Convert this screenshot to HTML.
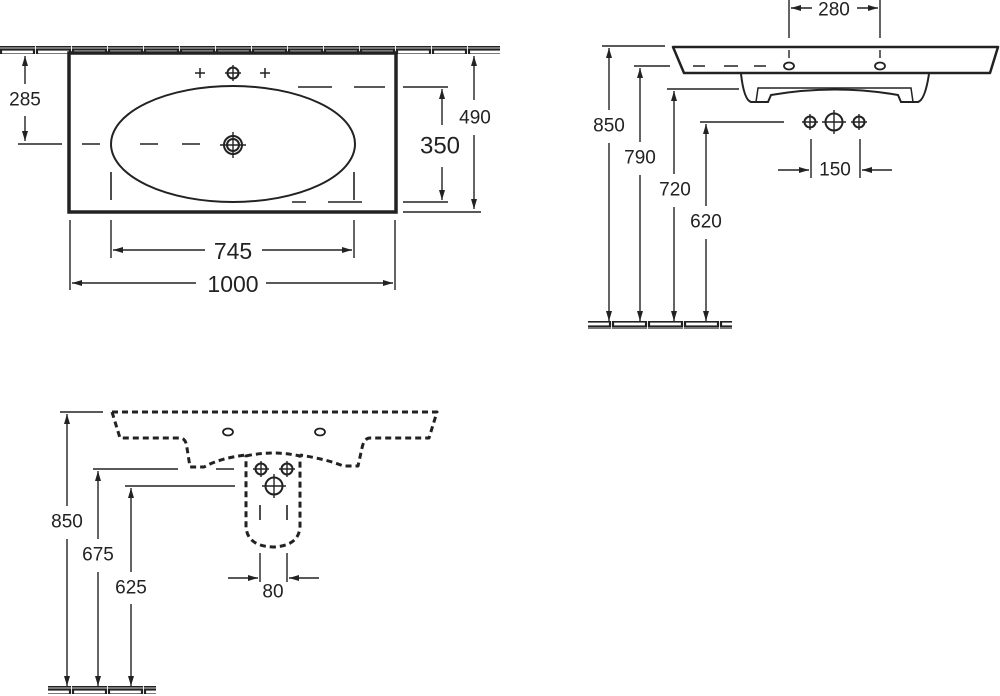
<!DOCTYPE html>
<html><head><meta charset="utf-8"><style>
html,body{margin:0;padding:0;background:#fff;}
svg{display:block;}
text{font-family:"Liberation Sans","DejaVu Sans",sans-serif;fill:#222;text-anchor:middle;dominant-baseline:central;}
</style></head><body>
<svg width="1000" height="696" viewBox="0 0 1000 696" xmlns="http://www.w3.org/2000/svg">
<defs>
<marker id="a" viewBox="0 0 10 10" refX="10" refY="5" markerWidth="10" markerHeight="10" markerUnits="userSpaceOnUse" orient="auto-start-reverse"><path d="M0,2 L10,5 L0,8 z" fill="#222"/></marker>
<pattern id="strip" width="36" height="8" patternUnits="userSpaceOnUse"><rect x="1" y="1.5" width="33" height="5" fill="#fff" stroke="#222" stroke-width="2.2"/></pattern>
</defs>
<g stroke="#222" fill="none" stroke-width="1.4">
<!-- TOP VIEW -->
<rect x="0" y="46" width="500" height="8" fill="url(#strip)" stroke="none"/>
<rect x="69" y="53" width="327" height="159" stroke-width="3.5"/>
<ellipse cx="233" cy="144" rx="122" ry="58" stroke-width="2"/>
<circle cx="233" cy="73" r="5.5" stroke-width="2"/>
<path d="M233,65v16M225,73h16"/>
<g stroke-width="1.5"><path d="M200,68v10M195,73h10M265,68v10M260,73h10"/></g>
<circle cx="233" cy="145" r="9" stroke-width="2"/><circle cx="233" cy="145" r="6" stroke-width="2"/>
<path d="M233,132v26M220,145h26"/>
<path d="M18,144H62"/>
<path d="M82,144H100M140,144H158M182,144H200" stroke-width="1.6"/>
<path d="M298,87H332M354,87H385M403,87H448" stroke-width="1.6"/>
<path d="M292,202H306M328,202H362M403,202H448" stroke-width="1.6"/>
<path d="M111,172V200M354,172V200" stroke-width="1.6"/>
<path d="M403,212H481"/>
<path d="M25,116V141" marker-end="url(#a)"/>
<path d="M25,84V56" marker-end="url(#a)"/>
<path d="M474,100V56" marker-end="url(#a)"/><path d="M474,135V209" marker-end="url(#a)"/>
<path d="M442,125V89" marker-end="url(#a)"/><path d="M442,167V200" marker-end="url(#a)"/>
<path d="M111,220V258M354,220V258M70,220V290M395,220V290"/>
<path d="M205,250H113" marker-end="url(#a)"/><path d="M262,250H352" marker-end="url(#a)"/>
<path d="M196,283H72" marker-end="url(#a)"/><path d="M266,283H393" marker-end="url(#a)"/>
<!-- SIDE VIEW -->
<path d="M673,47H998L990,73H684Z" stroke-width="2.5" stroke-linejoin="round"/>
<path d="M741,74Q744,100 751,102L768,102L771,95Q835,84 898,95L901,102L918,102Q925,100 929,74" stroke-width="2"/>
<path d="M756,102L758,88L911,88L913,102" stroke-width="1.5"/>
<path d="M693,66H705M724,66H738M754,66H766" stroke-width="1.6"/>
<ellipse cx="789" cy="66" rx="5" ry="3.5" stroke-width="1.8"/><ellipse cx="880" cy="66" rx="5" ry="3.5" stroke-width="1.8"/>
<path d="M789,0V38M880,0V38M789,50V58M880,50V58"/>
<path d="M812,8H791" marker-end="url(#a)"/><path d="M857,8H878" marker-end="url(#a)"/>
<rect x="588" y="321" width="144" height="8" fill="url(#strip)" stroke="none"/>
<path d="M602,46H665M634,66H670M667,89H739M700,122H784"/>
<path d="M609,110V48" marker-end="url(#a)"/><path d="M609,143V321" marker-end="url(#a)"/>
<path d="M640,142V68" marker-end="url(#a)"/><path d="M640,175V321" marker-end="url(#a)"/>
<path d="M674,174V91" marker-end="url(#a)"/><path d="M674,207V321" marker-end="url(#a)"/>
<path d="M706,206V124" marker-end="url(#a)"/><path d="M706,239V321" marker-end="url(#a)"/>
<g stroke-width="2"><circle cx="810" cy="122" r="5.5"/><circle cx="834" cy="122" r="8.5"/><circle cx="859" cy="122" r="5.5"/></g>
<path d="M810,114v16M802,122h16M834,110v24M822,122h24M859,114v16M851,122h16"/>
<path d="M811,139V178M860,139V178"/>
<path d="M778,170H809" marker-end="url(#a)"/><path d="M892,170H862" marker-end="url(#a)"/>
<!-- FRONT VIEW -->
<g stroke-width="3" stroke-dasharray="6,4" stroke-linejoin="round">
<path d="M112,412H437L429,438H370Q364,438 362,448L358,466H343Q330,460 300,455"/>
<path d="M112,412L120,438H180Q186,438 187,448L190,467H204Q220,458 246,455"/>
<path d="M246,456Q273,450 300,456V525Q300,546 273,547Q246,546 246,525Z"/>
</g>
<g stroke-width="1.8"><ellipse cx="228" cy="432" rx="5" ry="3.5"/><ellipse cx="320" cy="432" rx="5" ry="3.5"/></g>
<path d="M216,469H234" stroke-width="1.6"/>
<g stroke-width="2"><circle cx="261" cy="469" r="5.5"/><circle cx="287" cy="469" r="5.5"/><circle cx="274" cy="486" r="8.5"/></g>
<path d="M261,461v16M253,469h16M287,461v16M279,469h16M274,474v24M262,486h24"/>
<path d="M260,505V520M287,505V520" stroke-width="1.6"/>
<rect x="48" y="686" width="108" height="8" fill="url(#strip)" stroke="none"/>
<path d="M60,412H103M93,469H178M125,486H235"/>
<path d="M67,506V414" marker-end="url(#a)"/><path d="M67,539V686" marker-end="url(#a)"/>
<path d="M98,539V471" marker-end="url(#a)"/><path d="M98,572V686" marker-end="url(#a)"/>
<path d="M131,572V488" marker-end="url(#a)"/><path d="M131,604V686" marker-end="url(#a)"/>
<path d="M260,553V582M287,553V582"/>
<path d="M228,578H258" marker-end="url(#a)"/><path d="M319,578H289" marker-end="url(#a)"/>
</g>
<g font-size="19">
<text x="25" y="100">285</text>
<text x="475" y="118">490</text>
<text x="440" y="146" font-size="24">350</text>
<text x="233" y="251" font-size="23">745</text>
<text x="233" y="284" font-size="23">1000</text>
<text x="834" y="10">280</text>
<text x="609" y="126">850</text>
<text x="640" y="158">790</text>
<text x="675" y="190">720</text>
<text x="706" y="222">620</text>
<text x="835" y="170">150</text>
<text x="67" y="522">850</text>
<text x="98" y="555">675</text>
<text x="131" y="588">625</text>
<text x="273" y="592">80</text>
</g>
</svg>
</body></html>
